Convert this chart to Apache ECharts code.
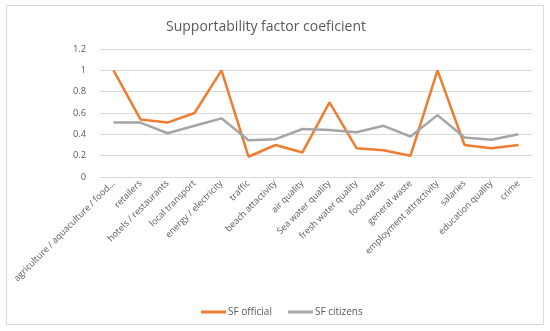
<!DOCTYPE html>
<html><head><meta charset="utf-8">
<script src="https://cdn.jsdelivr.net/npm/echarts@6/dist/echarts.min.js"></script>
<style>html,body{margin:0;padding:0;background:#fff}#c{width:550px;height:331px}</style>
</head><body><div id="c"></div>
<script>
var categories = ["agriculture / aquaculture / food...", "retailers", "hotels / restaurants", "local transport", "energy / electricity", "traffic", "beach attactivity", "air quality", "Sea water quality", "fresh water quality", "food waste", "general waste", "employment attractivity", "salaries", "education quality", "crime"];
var sfOfficial = [1.0, 0.54, 0.51, 0.60, 1.0, 0.19, 0.30, 0.23, 0.70, 0.27, 0.25, 0.20, 1.0, 0.30, 0.27, 0.30];
var sfCitizens = [0.51, 0.51, 0.41, 0.48, 0.55, 0.345, 0.355, 0.45, 0.44, 0.42, 0.48, 0.38, 0.58, 0.37, 0.35, 0.40];
var yTicks = [0, 0.2, 0.4, 0.6, 0.8, 1, 1.2];

var chart = echarts.init(document.getElementById('c'));
var font = "'Open Sans', 'Noto Sans', sans-serif";
chart.setOption({
  animation: false,
  graphic: [{type:'rect', shape:{x:6.5,y:5.5,width:537,height:319}, style:{fill:'none', stroke:'#D9D9D9', lineWidth:1}, z:-1}],
  title: {text:'Supportability factor coeficient', left:161, top:15, textStyle:{fontFamily:font, fontSize:14, fontWeight:'normal', color:'#595959'}},
  legend: {top:302, left:196, itemWidth:25, itemHeight:3, itemGap:16, icon:'rect',
    textStyle:{fontFamily:font, fontSize:10, color:'#595959', padding:[0,0,0,-3]}, data:['SF official','SF citizens']},
  grid: {left:100, right:18, top:49, bottom:154},
  xAxis: {type:'category', data:categories, boundaryGap:true,
    axisLine:{lineStyle:{color:'#D9D9D9'}}, axisTick:{show:false},
    axisLabel:{rotate:45, interval:0, fontFamily:font, fontSize:9, color:'#595959', margin:5}},
  yAxis: {type:'value', min:0, max:1.2, interval:0.2,
    axisLine:{show:false}, axisTick:{show:false},
    splitLine:{lineStyle:{color:'#D9D9D9'}},
    axisLabel:{fontFamily:font, fontSize:9.3, color:'#595959', margin:14,
      formatter:function(v){var t=yTicks.find(function(x){return Math.abs(x-v)<1e-6;}); return String(t);}}},
  series: [
    {name:'SF official', type:'line', data:sfOfficial, symbol:'none', lineStyle:{color:'#ED7D31', width:2.5}, itemStyle:{color:'#ED7D31'}},
    {name:'SF citizens', type:'line', data:sfCitizens, symbol:'none', lineStyle:{color:'#A5A5A5', width:2.5}, itemStyle:{color:'#A5A5A5'}}
  ]
});
</script></body></html>
